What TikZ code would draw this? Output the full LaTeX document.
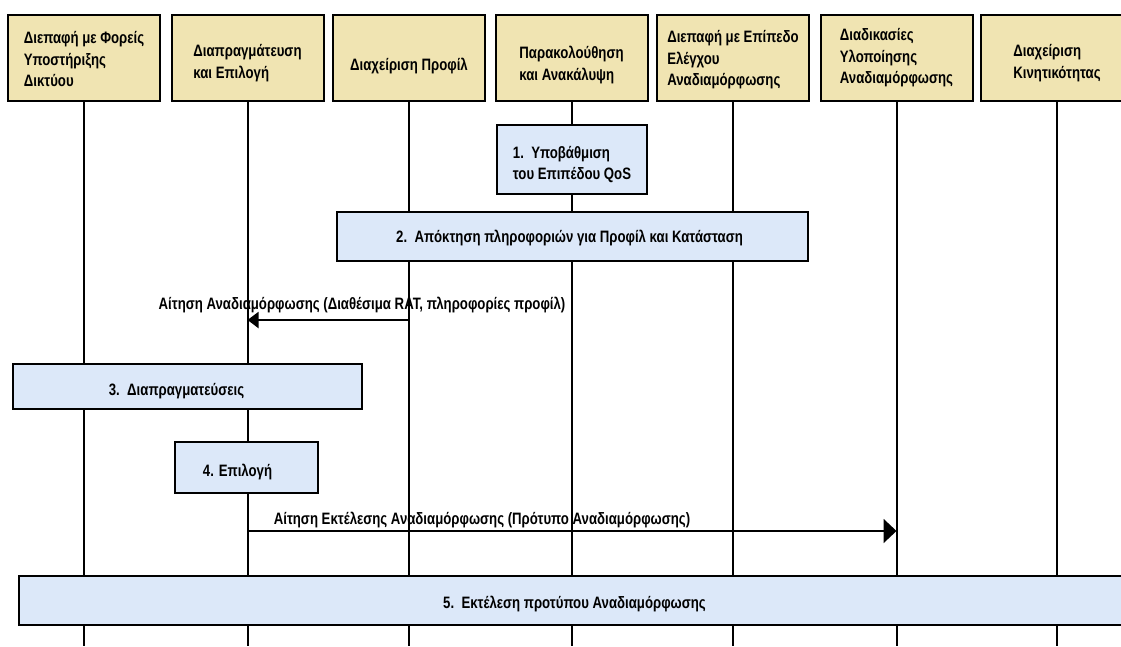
\documentclass[tikz,border=0pt]{standalone}
\usepackage{fontspec}
\setmainfont{Liberation Sans}[FakeStretch=0.8]
\usetikzlibrary{arrows.meta}
\definecolor{headtan}{RGB}{240,228,178}
\definecolor{stepblue}{RGB}{220,232,249}
% left-aligned text block, lowered inside its box without changing the box size
\newcommand\shiftdown[2]{\raisebox{-#1}[\height][\depth]{\begin{tabular}{@{}l@{}}#2\end{tabular}}}
\begin{document}
\begin{tikzpicture}[x=1pt,y=-1pt,
  every node/.style={font=\fontsize{16.5}{21.5}\selectfont\bfseries, inner sep=0pt},
  headbox/.style={draw, line width=2pt, fill=headtan, minimum width=152pt, minimum height=86pt},
  stepbox/.style={draw, line width=2pt, fill=stepblue},
  life/.style={line width=2pt},
  msg/.style={line width=2pt},
  msglabel/.style={anchor=center}]
\useasboundingbox (0,0) rectangle (1121,646);
\coordinate (bot) at (0,646);

% participants
\node[headbox] (h1) at (84,58)    {\shiftdown{3pt}{Διεπαφή με Φορείς\\Υποστήριξης\\Δικτύου}};
\node[headbox] (h2) at (247.5,58) {\shiftdown{5pt}{Διαπραγμάτευση\\και Επιλογή}};
\node[headbox] (h3) at (409,58)   {\shiftdown{8pt}{Διαχείριση Προφίλ}};
\node[headbox] (h4) at (571.5,58) {\shiftdown{7pt}{Παρακολούθηση\\και Ανακάλυψη}};
\node[headbox] (h5) at (733,58)   {\shiftdown{2pt}{Διεπαφή με Επίπεδο\\Ελέγχου\\Αναδιαμόρφωσης}};
\node[headbox] (h6) at (896.5,58) {\shiftdown{0pt}{Διαδικασίες\\Υλοποίησης\\Αναδιαμόρφωσης}};
\node[headbox] (h7) at (1057,58)  {\shiftdown{5pt}{Διαχείριση\\Κινητικότητας}};

% lifelines
\foreach \h in {h1,h2,h3,h4,h5,h6,h7}
  \draw[life] (\h.south) -- (\h.south |- bot);

% activity boxes
\node[stepbox, minimum width=150pt, minimum height=69pt] (s1) at (572,159.5)
  {\shiftdown{5pt}{1.\ \ Υποβάθμιση\\του Επιπέδου QoS}};
\node[stepbox, minimum width=471pt, minimum height=49pt] (s2) at (572.5,236.5)
  {\shiftdown{2pt}{2.\ \ Απόκτηση πληροφοριών για Προφίλ και Κατάσταση\hspace*{6pt}}};
\node[stepbox, minimum width=349pt, minimum height=45pt] (s3) at (187.5,386.5)
  {\shiftdown{5pt}{3.\ \ Διαπραγματεύσεις\hspace*{22pt}}};
\node[stepbox, minimum width=143pt, minimum height=51pt] (s4) at (246.5,467.5)
  {\shiftdown{5pt}{4. Επιλογή\hspace*{18pt}}};
\node[stepbox, minimum width=1111pt, minimum height=49pt] (s5) at (574.5,600.5)
  {\shiftdown{4pt}{5.\ \ Εκτέλεση προτύπου Αναδιαμόρφωσης}};

% messages
\coordinate (y1) at (0,320);
\coordinate (y2) at (0,531);
\draw[msg, -{Triangle[length=11pt,width=16pt]}] (h3.south |- y1) -- (h2.south |- y1);
\node[msglabel] (l1) at (362,305) {Αίτηση Αναδιαμόρφωσης (Διαθέσιμα RAT, πληροφορίες προφίλ)};
\draw[msg, -{Triangle[length=13pt,width=24pt]}] (h2.south |- y2) -- (h6.south |- y2);
\node[msglabel] (l2) at (482,520) {Αίτηση Εκτέλεσης Αναδιαμόρφωσης (Πρότυπο Αναδιαμόρφωσης)};
\end{tikzpicture}
\end{document}
